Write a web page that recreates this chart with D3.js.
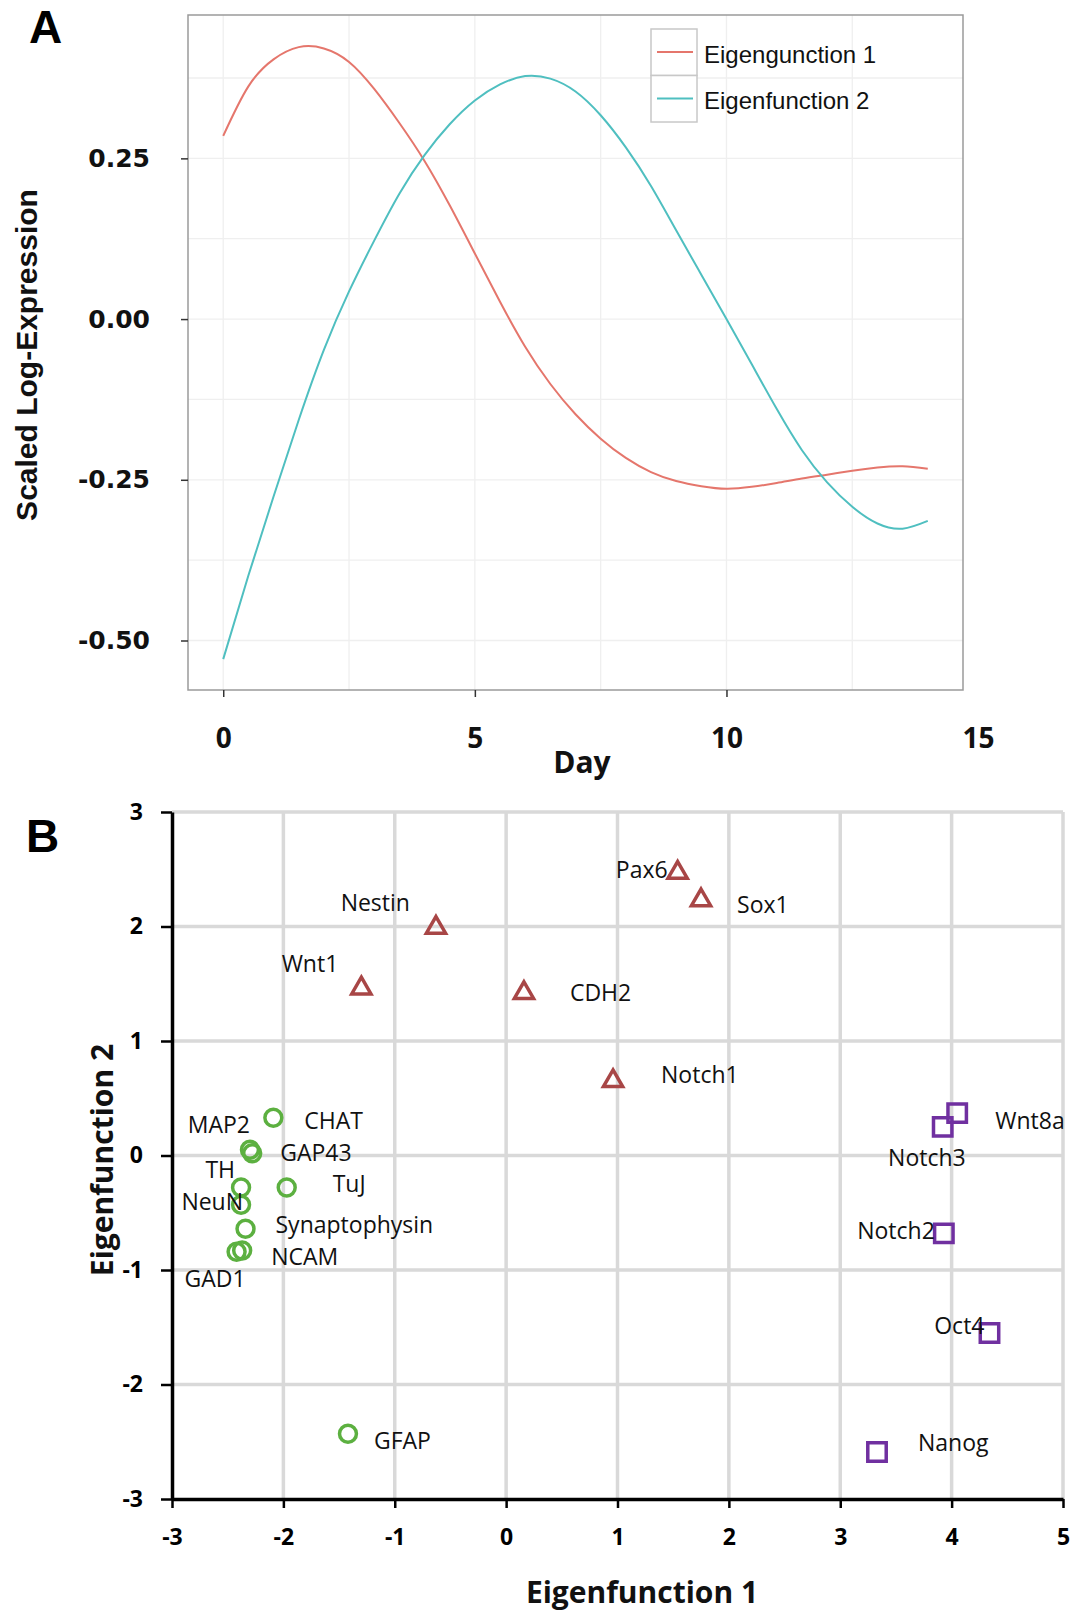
<!DOCTYPE html>
<html>
<head>
<meta charset="utf-8">
<script src="https://cdn.jsdelivr.net/npm/d3@7"></script>
<style>
  body { margin: 0; background: #fff; }
</style>
</head>
<body>
<svg id="chart"></svg>
<script>
// panel A: eigenfunctions over the time course
const days = [0, 0.5, 1, 1.5, 2, 2.5, 3, 3.5, 4, 4.5, 5, 5.5, 6, 6.5, 7, 7.5, 8, 8.5, 9, 9.5, 10, 10.5, 11, 11.5, 12, 12.5, 13, 13.5, 14];
const eigen1 = [0.285, 0.362, 0.404, 0.423, 0.421, 0.400, 0.358, 0.305, 0.246, 0.177, 0.102, 0.027, -0.043, -0.101, -0.148, -0.186, -0.216, -0.238, -0.252, -0.260, -0.264, -0.261, -0.255, -0.248, -0.242, -0.236, -0.231, -0.229, -0.233];
const eigen2 = [-0.529, -0.399, -0.276, -0.157, -0.048, 0.043, 0.122, 0.195, 0.255, 0.303, 0.340, 0.365, 0.378, 0.374, 0.354, 0.317, 0.267, 0.207, 0.138, 0.069, 0.0, -0.070, -0.140, -0.204, -0.254, -0.292, -0.318, -0.326, -0.314];
const seriesNames = ["Eigengunction 1", "Eigenfunction 2"];
const dayTicks = [0, 5, 10, 15];
const exprTicks = [0.25, 0, -0.25, -0.5];

// panel B: genes scored on the two eigenfunctions
const progenitorGenes = ["Pax6", "Sox1", "Nestin", "Wnt1", "CDH2", "Notch1"];
const progenitorE1 = [1.54, 1.75, -0.63, -1.30, 0.16, 0.96];
const progenitorE2 = [2.47, 2.23, 1.99, 1.46, 1.42, 0.65];

const stemGenes = ["Wnt8a", "Notch3", "Notch2", "Oct4", "Nanog"];
const stemE1 = [4.05, 3.92, 3.93, 4.34, 3.33];
const stemE2 = [0.37, 0.25, -0.68, -1.55, -2.59];

const neuralGenes = ["CHAT", "MAP2", "GAP43", "TH", "TuJ", "NeuN", "Synaptophysin", "NCAM", "GAD1", "GFAP"];
const neuralE1 = [-2.09, -2.30, -2.28, -2.38, -1.97, -2.38, -2.34, -2.37, -2.42, -1.42];
const neuralE2 = [0.33, 0.05, 0.02, -0.28, -0.28, -0.43, -0.64, -0.83, -0.84, -2.43];

const scoreTicks = [-3, -2, -1, 0, 1, 2, 3, 4, 5];

// where each gene label sits relative to its marker: [dx, dy, anchor]
const labelOffsets = {
  Pax6: [-10, 5, "end"], Sox1: [36, 13, "start"], Nestin: [-26, -17, "end"],
  Wnt1: [-23, -16, "end"], CDH2: [46, 8, "start"], Notch1: [48, 2, "start"],
  Wnt8a: [38, 16, "start"], Notch3: [23, 39, "end"], Notch2: [-9, 6, "end"],
  Oct4: [-5, 1, "end"], Nanog: [41, -1, "start"],
  CHAT: [31, 11, "start"], MAP2: [0, -17, "end"], GAP43: [28, 8, "start"],
  TH: [-6, -10, "end"], TuJ: [46, 4, "start"], NeuN: [2, 5, "end"],
  Synaptophysin: [30, 4, "start"], NCAM: [29, 14, "start"], GAD1: [-52, 35, "start"],
  GFAP: [26, 15, "start"]
};

const lineColors = ["#e5766c", "#4fbfc0"];
const width = 1087;
const height = 1614;

const svg = d3.select("#chart")
  .attr("width", width)
  .attr("height", height)
  .style("background", "#fff");

// ---------- panel A ----------
const xA = d3.scaleLinear().domain([-0.7, 14.7]).range([188, 963]);
const yA = d3.scaleLinear().domain([-0.577, 0.473]).range([690, 15]);
const panelA = svg.append("g");

panelA.append("rect")
  .attr("x", xA.range()[0])
  .attr("y", yA.range()[1])
  .attr("width", xA.range()[1] - xA.range()[0])
  .attr("height", yA.range()[0] - yA.range()[1])
  .attr("fill", "#fff");

panelA.selectAll(".gridx")
  .data(d3.range(0, 14.7, 2.5))
  .enter()
  .append("line")
  .attr("x1", d => xA(d)).attr("x2", d => xA(d))
  .attr("y1", yA.range()[0]).attr("y2", yA.range()[1])
  .attr("stroke", "#efefef")
  .attr("stroke-width", 1.3);

panelA.selectAll(".gridy")
  .data(d3.range(-0.5, 0.47, 0.125))
  .enter()
  .append("line")
  .attr("x1", xA.range()[0]).attr("x2", xA.range()[1])
  .attr("y1", d => yA(d)).attr("y2", d => yA(d))
  .attr("stroke", "#efefef")
  .attr("stroke-width", 1.3);

const curve = d3.line()
  .x((d, i) => xA(days[i]))
  .y(d => yA(d))
  .curve(d3.curveNatural);

[eigen1, eigen2].forEach((series, i) => {
  panelA.append("path")
    .attr("d", curve(series))
    .attr("fill", "none")
    .attr("stroke", lineColors[i])
    .attr("stroke-width", 2);
});

panelA.append("rect")
  .attr("x", xA.range()[0])
  .attr("y", yA.range()[1])
  .attr("width", xA.range()[1] - xA.range()[0])
  .attr("height", yA.range()[0] - yA.range()[1])
  .attr("fill", "none")
  .attr("stroke", "#9a9a9a")
  .attr("stroke-width", 1.5);

// legend
const legend = panelA.append("g").attr("transform", "translate(651, 29)");
seriesNames.forEach((name, i) => {
  legend.append("rect")
    .attr("x", 0).attr("y", i * 46.5)
    .attr("width", 46).attr("height", 46.5)
    .attr("fill", "#fff")
    .attr("stroke", "#c8c8c8")
    .attr("stroke-width", 1.5);
  legend.append("line")
    .attr("x1", 6).attr("x2", 42)
    .attr("y1", i * 46.5 + 23).attr("y2", i * 46.5 + 23)
    .attr("stroke", lineColors[i])
    .attr("stroke-width", 2);
  legend.append("text")
    .attr("x", 53)
    .attr("y", i * 46.5 + 33.5)
    .attr("font-family", "Liberation Sans, Arial, sans-serif")
    .attr("font-size", 24)
    .attr("fill", "#111")
    .text(name);
});

const axisLeftA = panelA.append("g")
  .attr("transform", `translate(${xA.range()[0]}, 0)`)
  .call(d3.axisLeft(yA).tickValues(exprTicks).tickSize(7).tickPadding(31).tickFormat(d => d.toFixed(2)));
axisLeftA.select(".domain").remove();
axisLeftA.selectAll(".tick line").attr("stroke", "#333").attr("stroke-width", 1.5);
axisLeftA.selectAll(".tick text")
  .attr("font-family", "DejaVu Sans, sans-serif")
  .attr("font-weight", "bold")
  .attr("font-size", 25)
  .attr("fill", "#111");

const axisBottomA = panelA.append("g")
  .attr("transform", `translate(0, ${yA.range()[0]})`)
  .call(d3.axisBottom(xA).tickValues(dayTicks).tickSize(7).tickPadding(31));
axisBottomA.select(".domain").remove();
axisBottomA.selectAll(".tick line").attr("stroke", "#333").attr("stroke-width", 1.5);
axisBottomA.selectAll(".tick")
  .filter(d => xA(d) > xA.range()[1])
  .select("line").remove();
axisBottomA.selectAll(".tick text")
  .attr("font-family", "Open Sans, sans-serif")
  .attr("font-weight", "bold")
  .attr("font-size", 28)
  .attr("fill", "#111");

panelA.append("text")
  .attr("x", 582)
  .attr("y", 773)
  .attr("text-anchor", "middle")
  .attr("font-family", "Open Sans, sans-serif")
  .attr("font-weight", "bold")
  .attr("font-size", 30)
  .attr("fill", "#111")
  .text("Day");

panelA.append("text")
  .attr("transform", "translate(37, 355) rotate(-90)")
  .attr("text-anchor", "middle")
  .attr("font-family", "Liberation Sans, Arial, sans-serif")
  .attr("font-weight", "bold")
  .attr("font-size", 30)
  .attr("fill", "#111")
  .text("Scaled Log-Expression");

svg.append("text")
  .attr("x", 29).attr("y", 43)
  .attr("font-family", "Liberation Sans, Arial, sans-serif")
  .attr("font-weight", "bold")
  .attr("font-size", 46)
  .attr("fill", "#000")
  .text("A");

// ---------- panel B ----------
const xB = d3.scaleLinear().domain([-3, 5]).range([172, 1063]);
const yB = d3.scaleLinear().domain([-3, 3]).range([1499, 812]);
const panelB = svg.append("g");

panelB.selectAll(".vgrid")
  .data(scoreTicks.filter(d => d > -3))
  .enter()
  .append("line")
  .attr("x1", d => xB(d)).attr("x2", d => xB(d))
  .attr("y1", yB(-3)).attr("y2", yB(3))
  .attr("stroke", "#d9d9d9")
  .attr("stroke-width", 3.5);

panelB.selectAll(".hgrid")
  .data(scoreTicks.filter(d => d > -3 && d <= 3))
  .enter()
  .append("line")
  .attr("x1", xB(-3)).attr("x2", xB(5))
  .attr("y1", d => yB(d)).attr("y2", d => yB(d))
  .attr("stroke", "#d9d9d9")
  .attr("stroke-width", 3.5);

const axisLeftB = panelB.append("g")
  .attr("transform", `translate(${xB(-3)}, 0)`)
  .call(d3.axisLeft(yB).tickValues(scoreTicks.filter(d => d <= 3)).tickSize(11).tickSizeOuter(0).tickPadding(18).tickFormat(d => String(d)));

const axisBottomB = panelB.append("g")
  .attr("transform", `translate(0, ${yB(-3)})`)
  .call(d3.axisBottom(xB).tickValues(scoreTicks).tickSize(9).tickSizeOuter(0).tickPadding(21).tickFormat(d => String(d)));

[axisLeftB, axisBottomB].forEach(ax => {
  ax.select(".domain").attr("stroke", "#000").attr("stroke-width", 3.5);
  ax.selectAll(".tick line").attr("stroke", "#000").attr("stroke-width", 2.5);
  ax.selectAll(".tick text")
    .attr("font-family", "Open Sans, sans-serif")
    .attr("font-weight", "bold")
    .attr("font-size", 23)
    .attr("fill", "#000");
});

function drawGroup(names, e1, e2, symbolType, size, color) {
  const pts = names.map((name, i) => ({ name: name, x: xB(e1[i]), y: yB(e2[i]) }));
  panelB.selectAll(null)
    .data(pts)
    .enter()
    .append("path")
    .attr("transform", d => `translate(${d.x}, ${d.y})`)
    .attr("d", d3.symbol(symbolType, size))
    .attr("fill", "none")
    .attr("stroke", color)
    .attr("stroke-width", 3.5);
  panelB.selectAll(null)
    .data(pts)
    .enter()
    .append("text")
    .attr("x", d => d.x + labelOffsets[d.name][0])
    .attr("y", d => d.y + labelOffsets[d.name][1])
    .attr("text-anchor", d => labelOffsets[d.name][2])
    .attr("font-family", "Open Sans, sans-serif")
    .attr("font-size", 23)
    .attr("fill", "#111")
    .text(d => d.name);
}

drawGroup(progenitorGenes, progenitorE1, progenitorE2, d3.symbolTriangle, 160, "#a84646");
drawGroup(stemGenes, stemE1, stemE2, d3.symbolSquare, 340, "#7030a0");
drawGroup(neuralGenes, neuralE1, neuralE2, d3.symbolCircle, 225, "#5cb040");

panelB.append("text")
  .attr("x", 642)
  .attr("y", 1603)
  .attr("text-anchor", "middle")
  .attr("font-family", "Open Sans, sans-serif")
  .attr("font-weight", "bold")
  .attr("font-size", 30)
  .attr("fill", "#111")
  .text("Eigenfunction 1");

panelB.append("text")
  .attr("transform", "translate(113, 1160) rotate(-90)")
  .attr("text-anchor", "middle")
  .attr("font-family", "Open Sans, sans-serif")
  .attr("font-weight", "bold")
  .attr("font-size", 30)
  .attr("fill", "#111")
  .text("Eigenfunction 2");

svg.append("text")
  .attr("x", 26).attr("y", 852)
  .attr("font-family", "Liberation Sans, Arial, sans-serif")
  .attr("font-weight", "bold")
  .attr("font-size", 46)
  .attr("fill", "#000")
  .text("B");
</script>
</body>
</html>
